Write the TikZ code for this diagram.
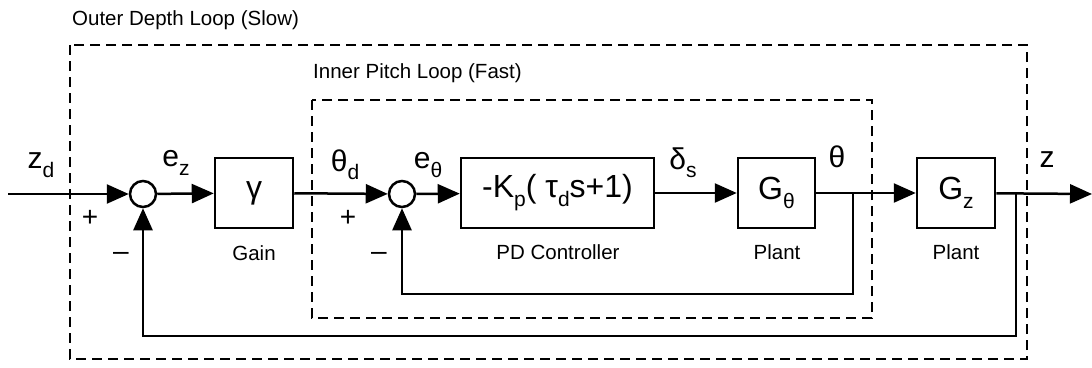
\documentclass[tikz,border=0pt]{standalone}
\usepackage{fontspec}
\setmainfont{Liberation Sans}
\usetikzlibrary{arrows.meta}
% lowered subscript in text font
\newcommand{\lowsub}[1]{\raisebox{-0.28em}{\fontsize{21}{24}\selectfont #1}}

\begin{document}
\begin{tikzpicture}[x=1pt, y=-1pt,
  block/.style={draw, line width=2.5pt, minimum height=70pt, inner sep=0pt, font=\fontsize{32}{36}\selectfont},
  sumnode/.style={draw, circle, line width=2.5pt, minimum size=26pt, inner sep=0pt},
  sig/.style={line width=2.5pt, -{Triangle[length=22pt,width=19pt]}},
  loopbox/.style={line width=1.6pt, dash pattern=on 10pt off 6pt},
  siglabel/.style={font=\fontsize{30}{34}\selectfont, inner sep=0pt},
  note/.style={font=\fontsize{20.5}{24}\selectfont, inner sep=0pt},
  sign/.style={font=\fontsize{28}{30}\selectfont, inner sep=0pt}]
  \useasboundingbox (0,0) rectangle (1092,367);

  % dashed loop boxes
  \draw[loopbox] (70,45) rectangle (1027,359);
  \draw[loopbox] (312,100) rectangle (872,318);
  \node[note, anchor=west] (outerlbl) at (72,20) {Outer Depth Loop (Slow)};
  \node[note, anchor=west] (innerlbl) at (313,73) {Inner Pitch Loop (Fast)};

  % blocks and summing junctions
  \coordinate (in) at (8,194);
  \node[sumnode] (s1) at (143,194) {};
  \node[block, minimum width=78pt] (gain) at (254,193) {γ};
  \node[sumnode] (s2) at (402,194) {};
  \node[block, minimum width=193pt] (pd) at (557.5,193) {-K\lowsub{p}( τ\lowsub{d}s+1)};
  \node[block, minimum width=77pt] (gth) at (776.5,193) {G\lowsub{θ}};
  \node[block, minimum width=78pt] (gz) at (956,193) {G\lowsub{z}};
  \coordinate (b1) at (853,194);
  \coordinate (b2) at (1016,194);
  \coordinate (out) at (1092,194);

  % block names
  \node[note] (gainlbl) at (254,253) {Gain};
  \node[note] (pdlbl) at (558,252) {PD Controller};
  \node[note] (gthlbl) at (777,252) {Plant};
  \node[note] (gzlbl) at (956,252) {Plant};

  % forward path
  \draw[sig] (in) -- (s1);
  \draw[sig] (s1) -- (gain);
  \draw[sig] (gain) -- (s2);
  \draw[sig] (s2) -- (pd);
  \draw[sig] (pd) -- (gth);
  \draw[sig] (gth) -- (gz);
  \draw[sig] (gz) -- (out);

  % feedback paths
  \draw[sig] (b1) -- ++(0,100) -| (s2);
  \draw[sig] (b2) -- ++(0,142) -| (s1);

  % signal names
  \node[siglabel] (zd) at (41,165) {z\lowsub{d}};
  \node[siglabel] (ez) at (176,163) {e\lowsub{z}};
  \node[siglabel] (thd) at (345,165) {θ\lowsub{d}};
  \node[siglabel] (eth) at (428,165) {e\lowsub{θ}};
  \node[siglabel] (ds) at (683,163) {δ\lowsub{s}};
  \node[siglabel] (th) at (837,157) {θ};
  \node[siglabel] (z) at (1047,160) {z};

  % signs
  \node[sign] (p1) at (90,218) {+};
  \node[sign] (m1) at (121,256) {–};
  \node[sign] (p2) at (348,218) {+};
  \node[sign] (m2) at (379,256) {–};
\end{tikzpicture}
\end{document}
